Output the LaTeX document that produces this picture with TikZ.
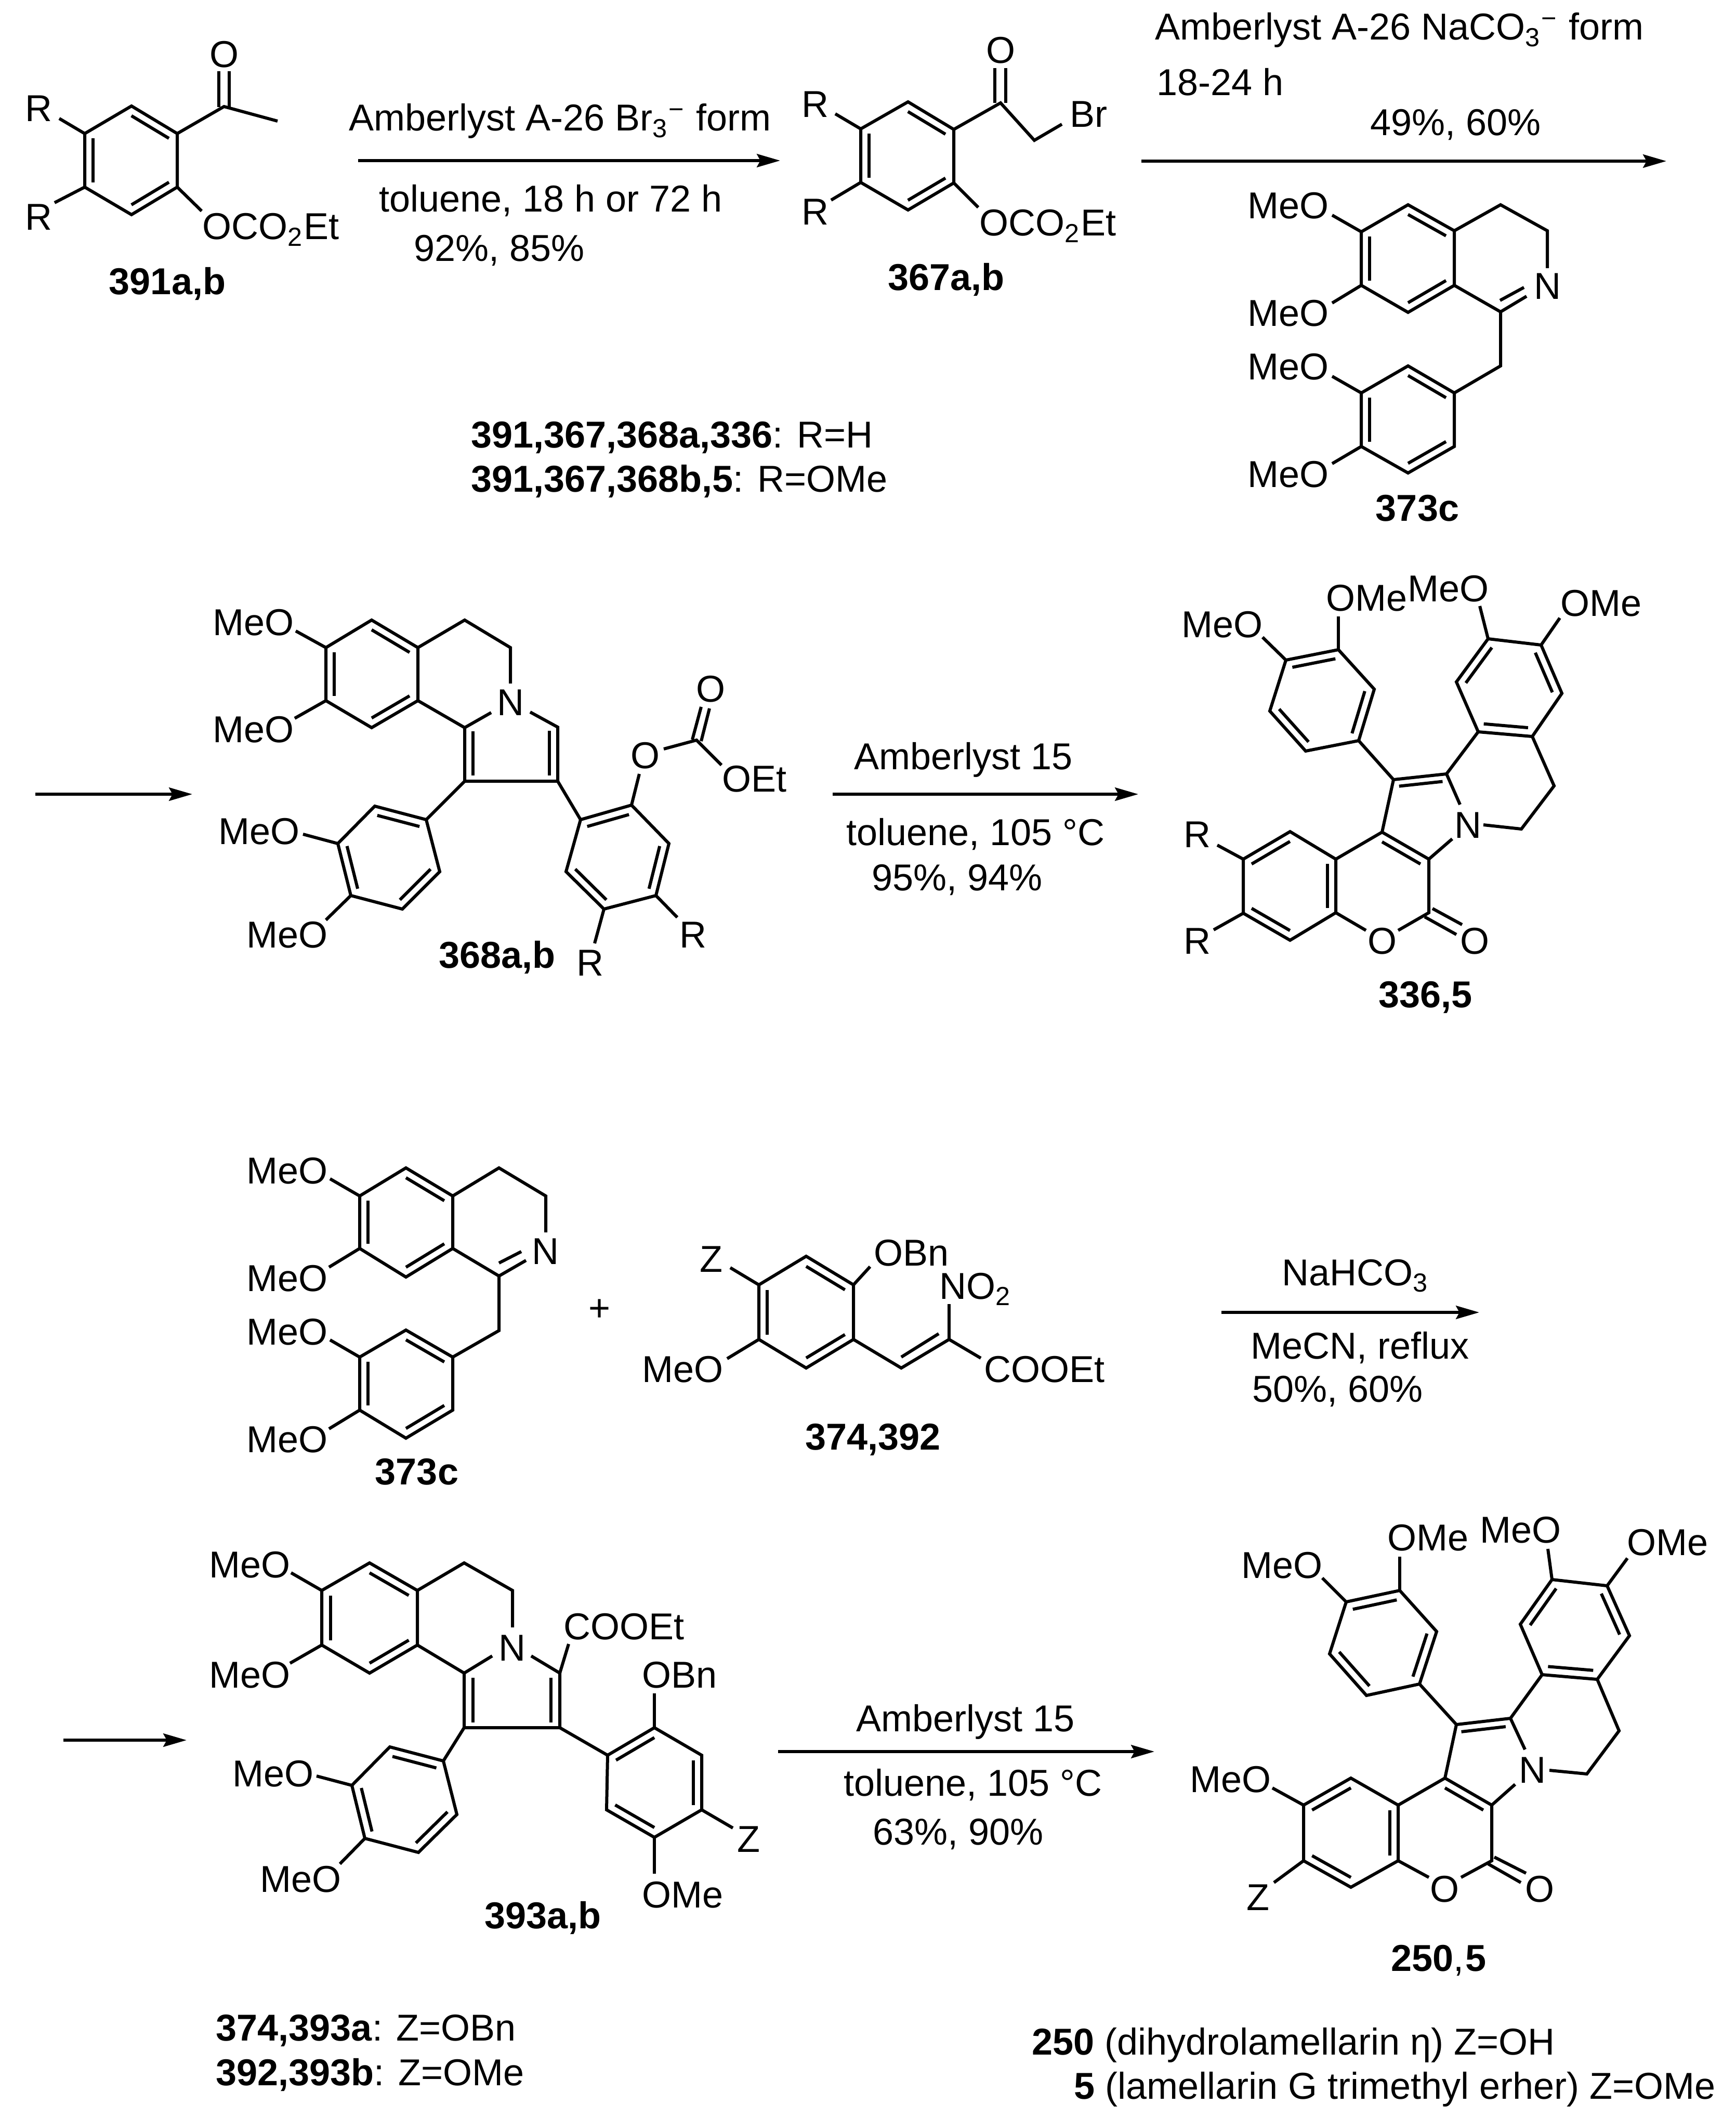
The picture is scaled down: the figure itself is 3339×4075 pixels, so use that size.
\documentclass[tikz,border=0pt]{standalone}
\usepackage{fontspec}
\setmainfont[Scale=1.08]{Liberation Sans}
\usetikzlibrary{arrows.meta,calc}
\tikzstyle{bond} = [draw,line width=0.9pt,line join=miter]
\tikzstyle{rxn} = [draw,line width=0.95pt,-{Stealth[length=6.7pt,width=3.8pt,inset=1pt]}]
\tikzstyle{lab} = [inner sep=0pt,anchor=base west]
\tikzstyle{labr} = [inner sep=0pt,anchor=base east,xshift=0.9pt]
\tikzstyle{labc} = [inner sep=0pt,anchor=base]
% inner line of a double bond, pulled towards the ring centre
\newcommand{\dbl}[3]{\path[bond] ($(#1)!.18!(#3)$) -- ($(#2)!.18!(#3)$);}

\begin{document}
\begin{tikzpicture}[x=0.15pt,y=-0.15pt]
   \useasboundingbox (0,0) rectangle (3339,4075);

   % 391a,b
   \path[bond] (253,204) -- (341,257) -- (341,360) -- (253,413) -- (163,360) -- (163,257) -- cycle;
   \dbl{253,204}{341,257}{252,308} \dbl{163,257}{163,360}{252,308} \dbl{253,413}{341,360}{252,308}
   \path[bond] (341,257) -- (431,205) -- (534,233);
   \path[bond] (421,206) -- (421,137);
   \path[bond] (441,206) -- (441,137);
   \path[bond] (163,257) -- (114,228);
   \path[bond] (163,360) -- (105,390);
   \path[bond] (341,360) -- (388,406);
   \node[labc] (oA) at (431,130) {O};
   \node[labc] (rA1) at (74,234) {R};
   \node[labc] (rA2) at (74,443) {R};
   \node[lab] (ocA) at (388,461) {OCO\textsubscript{2}Et};
   \node[labc] (nA) at (322,567) {\textbf{391a,b}};

   % first arrow
   \coordinate (a1s) at (689,309);
   \coordinate (a1e) at (1501,309);
   \path[rxn] (a1s) -- (a1e);
   \node[lab] (t1a) at (670,252) {Amberlyst A-26 Br\textsubscript{3}\textsuperscript{−} form};
   \node[lab] (t1b) at (728,408) {toluene, 18 h or 72 h};
   \node[lab] (t1c) at (795,503) {92\%, 85\%};
   \node[lab] (kR1) at (905,861) {\textbf{391,367,368a,336}: R=H};
   \node[lab] (kR2) at (905,946) {\textbf{391,367,368b,5}: R=OMe};

   % 367a,b
   \path[bond] (1747,196) -- (1835,249) -- (1835,352) -- (1747,404) -- (1656,351) -- (1656,248) -- cycle;
   \dbl{1747,196}{1835,249}{1746,300} \dbl{1656,248}{1656,351}{1746,300} \dbl{1747,404}{1835,352}{1746,300}
   \path[bond] (1835,249) -- (1925,198) -- (1990,270) -- (2043,239);
   \path[bond] (1914,198) -- (1914,131);
   \path[bond] (1935,198) -- (1935,131);
   \path[bond] (1656,248) -- (1607,219);
   \path[bond] (1656,351) -- (1599,385);
   \path[bond] (1835,352) -- (1882,399);
   \node[labc] (oB) at (1925,122) {O};
   \node[lab] (brB) at (2057,245) {Br};
   \node[labc] (rB1) at (1568,226) {R};
   \node[labc] (rB2) at (1568,433) {R};
   \node[lab] (ocB) at (1883,454) {OCO\textsubscript{2}Et};
   \node[lab] (nB) at (1707,559) {\textbf{367a,b}};

   % second arrow
   \coordinate (a2s) at (2196,310);
   \coordinate (a2e) at (3206,310);
   \path[rxn] (a2s) -- (a2e);
   \node[lab] (t2a) at (2221,77) {Amberlyst A-26 NaCO\textsubscript{3}\textsuperscript{−} form};
   \node[lab] (t2b) at (2224,184) {18-24 h};
   \node[lab] (t2c) at (2635,261) {49\%, 60\%};

   % 373c, under the second arrow
   \path[bond] (2709,394) -- (2798,444) -- (2798,549) -- (2709,601) -- (2619,549) -- (2619,446) -- cycle;
   \dbl{2709,394}{2798,444}{2709,498} \dbl{2619,446}{2619,549}{2709,498} \dbl{2709,601}{2798,549}{2709,498}
   \path[bond] (2798,444) -- (2887,394) -- (2977,444) -- (2977,516);
   \path[bond] (2798,549) -- (2887,600) -- (2937,570);
   \path[bond] (2886,578) -- (2932,553);
   \path[bond] (2887,600) -- (2887,704) -- (2798,756);
   \path[bond] (2798,756) -- (2709,704) -- (2619,756) -- (2619,859) -- (2709,910) -- (2798,859) -- cycle;
   \dbl{2709,704}{2798,756}{2709,807} \dbl{2619,756}{2619,859}{2709,807} \dbl{2709,910}{2798,859}{2709,807}
   \path[bond] (2619,446) -- (2563,414);
   \path[bond] (2619,549) -- (2563,583);
   \path[bond] (2619,756) -- (2563,724);
   \path[bond] (2619,859) -- (2563,892);
   \node[labc] (nC) at (2977,576) {N};
   \node[labr] (mC1) at (2552,421) {MeO};
   \node[labr] (mC2) at (2552,628) {MeO};
   \node[labr] (mC3) at (2552,731) {MeO};
   \node[labr] (mC4) at (2552,938) {MeO};
   \node[labc] (lC) at (2727,1002) {\textbf{373c}};

   % third arrow
   \coordinate (a3s) at (68,1528);
   \coordinate (a3e) at (370,1528);
   \path[rxn] (a3s) -- (a3e);

   % 368a,b
   \path[bond] (715,1193) -- (804,1246) -- (804,1348) -- (715,1400) -- (627,1348) -- (627,1246) -- cycle;
   \dbl{715,1193}{804,1246}{715,1297} \dbl{627,1246}{627,1348}{715,1297} \dbl{715,1400}{804,1348}{715,1297}
   \path[bond] (804,1246) -- (894,1193) -- (982,1246) -- (982,1315);
   \path[bond] (804,1348) -- (894,1400) -- (945,1371);
   \path[bond] (1020,1370) -- (1073,1399) -- (1073,1503) -- (894,1503) -- (894,1400);
   \dbl{894,1400}{894,1503}{984,1440} \dbl{1073,1399}{1073,1503}{984,1440}
   \path[bond] (894,1503) -- (820,1577);
   \path[bond] (820,1577) -- (721,1551) -- (650,1623) -- (675,1723) -- (774,1749) -- (846,1677) -- cycle;
   \dbl{721,1551}{820,1577}{748,1650} \dbl{650,1623}{675,1723}{748,1650} \dbl{774,1749}{846,1677}{748,1650}
   \path[bond] (1073,1503) -- (1117,1577);
   \path[bond] (1117,1577) -- (1215,1549) -- (1287,1623) -- (1262,1723) -- (1162,1749) -- (1089,1677) -- cycle;
   \dbl{1117,1577}{1215,1549}{1188,1650} \dbl{1287,1623}{1262,1723}{1188,1650} \dbl{1162,1749}{1089,1677}{1188,1650}
   \path[bond] (627,1246) -- (569,1214);
   \path[bond] (627,1348) -- (567,1382);
   \path[bond] (650,1623) -- (583,1605);
   \path[bond] (675,1723) -- (627,1770);
   \path[bond] (1215,1549) -- (1230,1489);
   \path[bond] (1277,1441) -- (1340,1424) -- (1388,1472);
   \path[bond] (1332,1423) -- (1349,1360);
   \path[bond] (1349,1426) -- (1365,1363);
   \path[bond] (1262,1723) -- (1303,1765);
   \path[bond] (1162,1749) -- (1144,1815);
   \node[labc] (nD) at (982,1376) {N};
   \node[labr] (mD1) at (561,1222) {MeO};
   \node[labr] (mD2) at (561,1428) {MeO};
   \node[labr] (mD3) at (572,1624) {MeO};
   \node[labr] (mD4) at (626,1823) {MeO};
   \node[labc] (oD1) at (1241,1478) {O};
   \node[labc] (oD2) at (1367,1350) {O};
   \node[lab] (oD3) at (1388,1523) {OEt};
   \node[labc] (rD1) at (1333,1823) {R};
   \node[labc] (rD2) at (1135,1877) {R};
   \node[lab] (lD) at (843,1862) {\textbf{368a,b}};

   % fourth arrow
   \coordinate (a4s) at (1602,1528);
   \coordinate (a4e) at (2190,1528);
   \path[rxn] (a4s) -- (a4e);
   \node[lab] (t4a) at (1642,1480) {Amberlyst 15};
   \node[lab] (t4b) at (1627,1626) {toluene, 105 °C};
   \node[lab] (t4c) at (1676,1713) {95\%, 94\%};

   % 336,5
   \path[bond] (2575,1250) -- (2644,1326) -- (2614,1425) -- (2512,1445) -- (2443,1368) -- (2474,1270) -- cycle;
   \dbl{2474,1270}{2575,1250}{2543,1347} \dbl{2644,1326}{2614,1425}{2543,1347} \dbl{2512,1445}{2443,1368}{2543,1347}
   \path[bond] (2575,1250) -- (2575,1186);
   \path[bond] (2474,1270) -- (2429,1226);
   \path[bond] (2847,1166) -- (2863,1229);
   \path[bond] (3001,1189) -- (2965,1241);
   \path[bond] (2863,1229) -- (2965,1241) -- (3005,1334) -- (2948,1417) -- (2844,1408) -- (2802,1312) -- cycle;
   \dbl{2863,1229}{2802,1312}{2903,1323} \dbl{2965,1241}{3005,1334}{2903,1323} \dbl{2948,1417}{2844,1408}{2903,1323}
   \path[bond] (2948,1417) -- (2990,1512) -- (2927,1595) -- (2854,1587);
   \path[bond] (2844,1408) -- (2783,1489) -- (2809,1548);
   \path[bond] (2783,1489) -- (2681,1500) -- (2659,1601);
   \dbl{2783,1489}{2681,1500}{2741,1570}
   \path[bond] (2614,1425) -- (2681,1500);
   \path[bond] (2794,1614) -- (2749,1653) -- (2659,1601) -- (2570,1653);
   \dbl{2659,1601}{2749,1653}{2659,1705}
   \path[bond] (2570,1653) -- (2482,1600) -- (2392,1653) -- (2392,1757) -- (2482,1809) -- (2570,1756) -- cycle;
   \dbl{2482,1600}{2392,1653}{2481,1705} \dbl{2392,1757}{2482,1809}{2481,1705} \dbl{2570,1653}{2570,1756}{2481,1705}
   \path[bond] (2570,1756) -- (2628,1790);
   \path[bond] (2690,1790) -- (2749,1756) -- (2749,1653);
   \path[bond] (2756,1748) -- (2813,1779);
   \path[bond] (2741,1764) -- (2802,1798);
   \path[bond] (2392,1653) -- (2342,1626);
   \path[bond] (2392,1757) -- (2335,1789);
   \node[lab] (mE1) at (2550,1175) {OMe};
   \node[labr] (mE2) at (2425,1226) {MeO};
   \node[labr] (mE3) at (2860,1157) {MeO};
   \node[lab] (mE4) at (3001,1185) {OMe};
   \node[labc] (nE) at (2824,1612) {N};
   \node[labc] (oE1) at (2659,1835) {O};
   \node[labc] (oE2) at (2837,1835) {O};
   \node[labc] (rE1) at (2303,1630) {R};
   \node[labc] (rE2) at (2303,1835) {R};
   \node[lab] (lE) at (2651,1938) {\textbf{336,5}};

   % 373c, second row
   \path[bond] (781,2247) -- (871,2301) -- (871,2402) -- (781,2457) -- (692,2402) -- (692,2301) -- cycle;
   \dbl{781,2247}{871,2301}{781,2352} \dbl{692,2301}{692,2402}{781,2352} \dbl{781,2457}{871,2402}{781,2352}
   \path[bond] (871,2301) -- (960,2247) -- (1050,2301) -- (1050,2371);
   \path[bond] (871,2402) -- (960,2455) -- (1012,2425);
   \path[bond] (960,2430) -- (1003,2408);
   \path[bond] (960,2455) -- (960,2560) -- (871,2611);
   \path[bond] (871,2611) -- (781,2559) -- (692,2611) -- (692,2713) -- (781,2767) -- (871,2713) -- cycle;
   \dbl{781,2559}{871,2611}{781,2663} \dbl{692,2611}{692,2713}{781,2663} \dbl{781,2767}{871,2713}{781,2663}
   \path[bond] (692,2301) -- (635,2268);
   \path[bond] (692,2402) -- (633,2438);
   \path[bond] (692,2611) -- (635,2578);
   \path[bond] (692,2713) -- (633,2749);
   \node[labc] (nF) at (1049,2432) {N};
   \node[labr] (mF1) at (626,2277) {MeO};
   \node[labr] (mF2) at (626,2484) {MeO};
   \node[labr] (mF3) at (626,2587) {MeO};
   \node[labr] (mF4) at (626,2794) {MeO};
   \node[labc] (lF) at (802,2856) {\textbf{373c}};
   \node[labc] (plus) at (1154,2541) {+};

   % 374,392
   \path[bond] (1551,2417) -- (1642,2472) -- (1642,2577) -- (1551,2632) -- (1460,2577) -- (1460,2472) -- cycle;
   \dbl{1551,2417}{1642,2472}{1551,2525} \dbl{1460,2472}{1460,2577}{1551,2525} \dbl{1551,2632}{1642,2577}{1551,2525}
   \path[bond] (1642,2577) -- (1734,2632) -- (1826,2577) -- (1887,2613);
   \path[bond] (1734,2611) -- (1806,2566);
   \path[bond] (1826,2577) -- (1826,2509);
   \path[bond] (1460,2472) -- (1405,2439);
   \path[bond] (1642,2472) -- (1674,2437);
   \path[bond] (1460,2577) -- (1399,2614);
   \node[labc] (zG) at (1368,2447) {Z};
   \node[lab] (bnG) at (1680,2435) {OBn};
   \node[lab] (noG) at (1806,2499) {NO\textsubscript{2}};
   \node[lab] (coG) at (1892,2659) {COOEt};
   \node[labr] (mG) at (1387,2659) {MeO};
   \node[lab] (lG) at (1548,2789) {\textbf{374,392}};

   % fifth arrow
   \coordinate (a5s) at (2350,2525);
   \coordinate (a5e) at (2846,2525);
   \path[rxn] (a5s) -- (a5e);
   \node[lab] (t5a) at (2465,2473) {NaHCO\textsubscript{3}};
   \node[lab] (t5b) at (2405,2614) {MeCN, reflux};
   \node[lab] (t5c) at (2408,2697) {50\%, 60\%};

   % sixth arrow
   \coordinate (a6s) at (122,3348);
   \coordinate (a6e) at (359,3348);
   \path[rxn] (a6s) -- (a6e);

   % 393a,b
   \path[bond] (711,3007) -- (803,3060) -- (803,3165) -- (711,3219) -- (619,3165) -- (619,3060) -- cycle;
   \dbl{711,3007}{803,3060}{711,3113} \dbl{619,3060}{619,3165}{711,3113} \dbl{711,3219}{803,3165}{711,3113}
   \path[bond] (803,3060) -- (893,3007) -- (986,3060) -- (986,3131);
   \path[bond] (803,3165) -- (893,3219) -- (947,3186);
   \path[bond] (1022,3186) -- (1077,3219) -- (1077,3324) -- (893,3324) -- (893,3219);
   \dbl{893,3219}{893,3324}{985,3270} \dbl{1077,3219}{1077,3324}{985,3270}
   \path[bond] (1077,3219) -- (1094,3163);
   \path[bond] (893,3324) -- (853,3388);
   \path[bond] (853,3388) -- (750,3361) -- (677,3435) -- (702,3537) -- (805,3564) -- (879,3491) -- cycle;
   \dbl{750,3361}{853,3388}{778,3463} \dbl{677,3435}{702,3537}{778,3463} \dbl{805,3564}{879,3491}{778,3463}
   \path[bond] (1077,3324) -- (1169,3377);
   \path[bond] (1169,3377) -- (1259,3324) -- (1350,3377) -- (1350,3482) -- (1259,3535) -- (1167,3482) -- cycle;
   \dbl{1169,3377}{1259,3324}{1259,3430} \dbl{1350,3377}{1350,3482}{1259,3430} \dbl{1259,3535}{1167,3482}{1259,3430}
   \path[bond] (619,3060) -- (560,3026);
   \path[bond] (619,3165) -- (558,3200);
   \path[bond] (677,3435) -- (609,3417);
   \path[bond] (702,3537) -- (654,3586);
   \path[bond] (1259,3324) -- (1259,3258);
   \path[bond] (1350,3482) -- (1410,3517);
   \path[bond] (1259,3535) -- (1259,3605);
   \node[labc] (nH) at (985,3195) {N};
   \node[lab] (coH) at (1083,3154) {COOEt};
   \node[labr] (mH1) at (554,3035) {MeO};
   \node[labr] (mH2) at (554,3247) {MeO};
   \node[labr] (mH3) at (599,3437) {MeO};
   \node[labr] (mH4) at (652,3640) {MeO};
   \node[lab] (bnH) at (1234,3247) {OBn};
   \node[labc] (zH) at (1440,3563) {Z};
   \node[lab] (omH) at (1234,3670) {OMe};
   \node[lab] (lH) at (931,3710) {\textbf{393a,b}};
   \node[lab] (kZ1) at (414,3926) {\textbf{374,393a}: Z=OBn};
   \node[lab] (kZ2) at (414,4012) {\textbf{392,393b}: Z=OMe};

   % seventh arrow
   \coordinate (a7s) at (1497,3370);
   \coordinate (a7e) at (2221,3370);
   \path[rxn] (a7s) -- (a7e);
   \node[lab] (t7a) at (1646,3331) {Amberlyst 15};
   \node[lab] (t7b) at (1622,3455) {toluene, 105 °C};
   \node[lab] (t7c) at (1678,3549) {63\%, 90\%};

   % 250,5
   \path[bond] (2693,3060) -- (2764,3139) -- (2731,3240) -- (2629,3262) -- (2558,3182) -- (2590,3082) -- cycle;
   \dbl{2590,3082}{2693,3060}{2661,3161} \dbl{2764,3139}{2731,3240}{2661,3161} \dbl{2629,3262}{2558,3182}{2661,3161}
   \path[bond] (2693,3060) -- (2693,2995);
   \path[bond] (2590,3082) -- (2544,3036);
   \path[bond] (2978,2980) -- (2986,3039);
   \path[bond] (3131,2998) -- (3092,3051);
   \path[bond] (2986,3039) -- (3092,3051) -- (3135,3147) -- (3073,3231) -- (2967,3222) -- (2925,3125) -- cycle;
   \dbl{2986,3039}{2925,3125}{3030,3135} \dbl{3092,3051}{3135,3147}{3030,3135} \dbl{3073,3231}{2967,3222}{3030,3135}
   \path[bond] (3073,3231) -- (3115,3330) -- (3053,3413) -- (2981,3406);
   \path[bond] (2967,3222) -- (2906,3306) -- (2934,3366);
   \path[bond] (2906,3306) -- (2802,3318) -- (2780,3421);
   \dbl{2906,3306}{2802,3318}{2855,3395}
   \path[bond] (2731,3240) -- (2802,3318);
   \path[bond] (2915,3433) -- (2870,3473) -- (2780,3421) -- (2690,3473);
   \dbl{2780,3421}{2870,3473}{2780,3526}
   \path[bond] (2690,3473) -- (2599,3421) -- (2508,3473) -- (2508,3580) -- (2599,3631) -- (2690,3580) -- cycle;
   \dbl{2599,3421}{2508,3473}{2599,3526} \dbl{2508,3580}{2599,3631}{2599,3526} \dbl{2690,3473}{2690,3580}{2599,3526}
   \path[bond] (2690,3580) -- (2749,3612);
   \path[bond] (2811,3612) -- (2870,3580) -- (2870,3473);
   \path[bond] (2875,3573) -- (2936,3604);
   \path[bond] (2863,3586) -- (2926,3622);
   \path[bond] (2508,3473) -- (2448,3440);
   \path[bond] (2508,3580) -- (2451,3622);
   \node[lab] (mJ1) at (2668,2983) {OMe};
   \node[labr] (mJ2) at (2540,3036) {MeO};
   \node[labr] (mJ3) at (2999,2968) {MeO};
   \node[lab] (mJ4) at (3129,2992) {OMe};
   \node[labc] (nJ) at (2948,3430) {N};
   \node[labc] (oJ1) at (2779,3659) {O};
   \node[labc] (oJ2) at (2962,3659) {O};
   \node[labr] (mJ5) at (2441,3448) {MeO};
   \node[labc] (zJ) at (2420,3675) {Z};
   \node[lab] (lJ) at (2675,3792) {\textbf{250},\kern0.4pt\textbf{5}};
   \node[lab] (kJ1) at (1984,3953) {\textbf{250} (dihydrolamellarin η) Z=OH};
   \node[lab] (kJ2) at (2065,4038) {\textbf{5} (lamellarin G trimethyl erher) Z=OMe};
\end{tikzpicture}
\end{document}
